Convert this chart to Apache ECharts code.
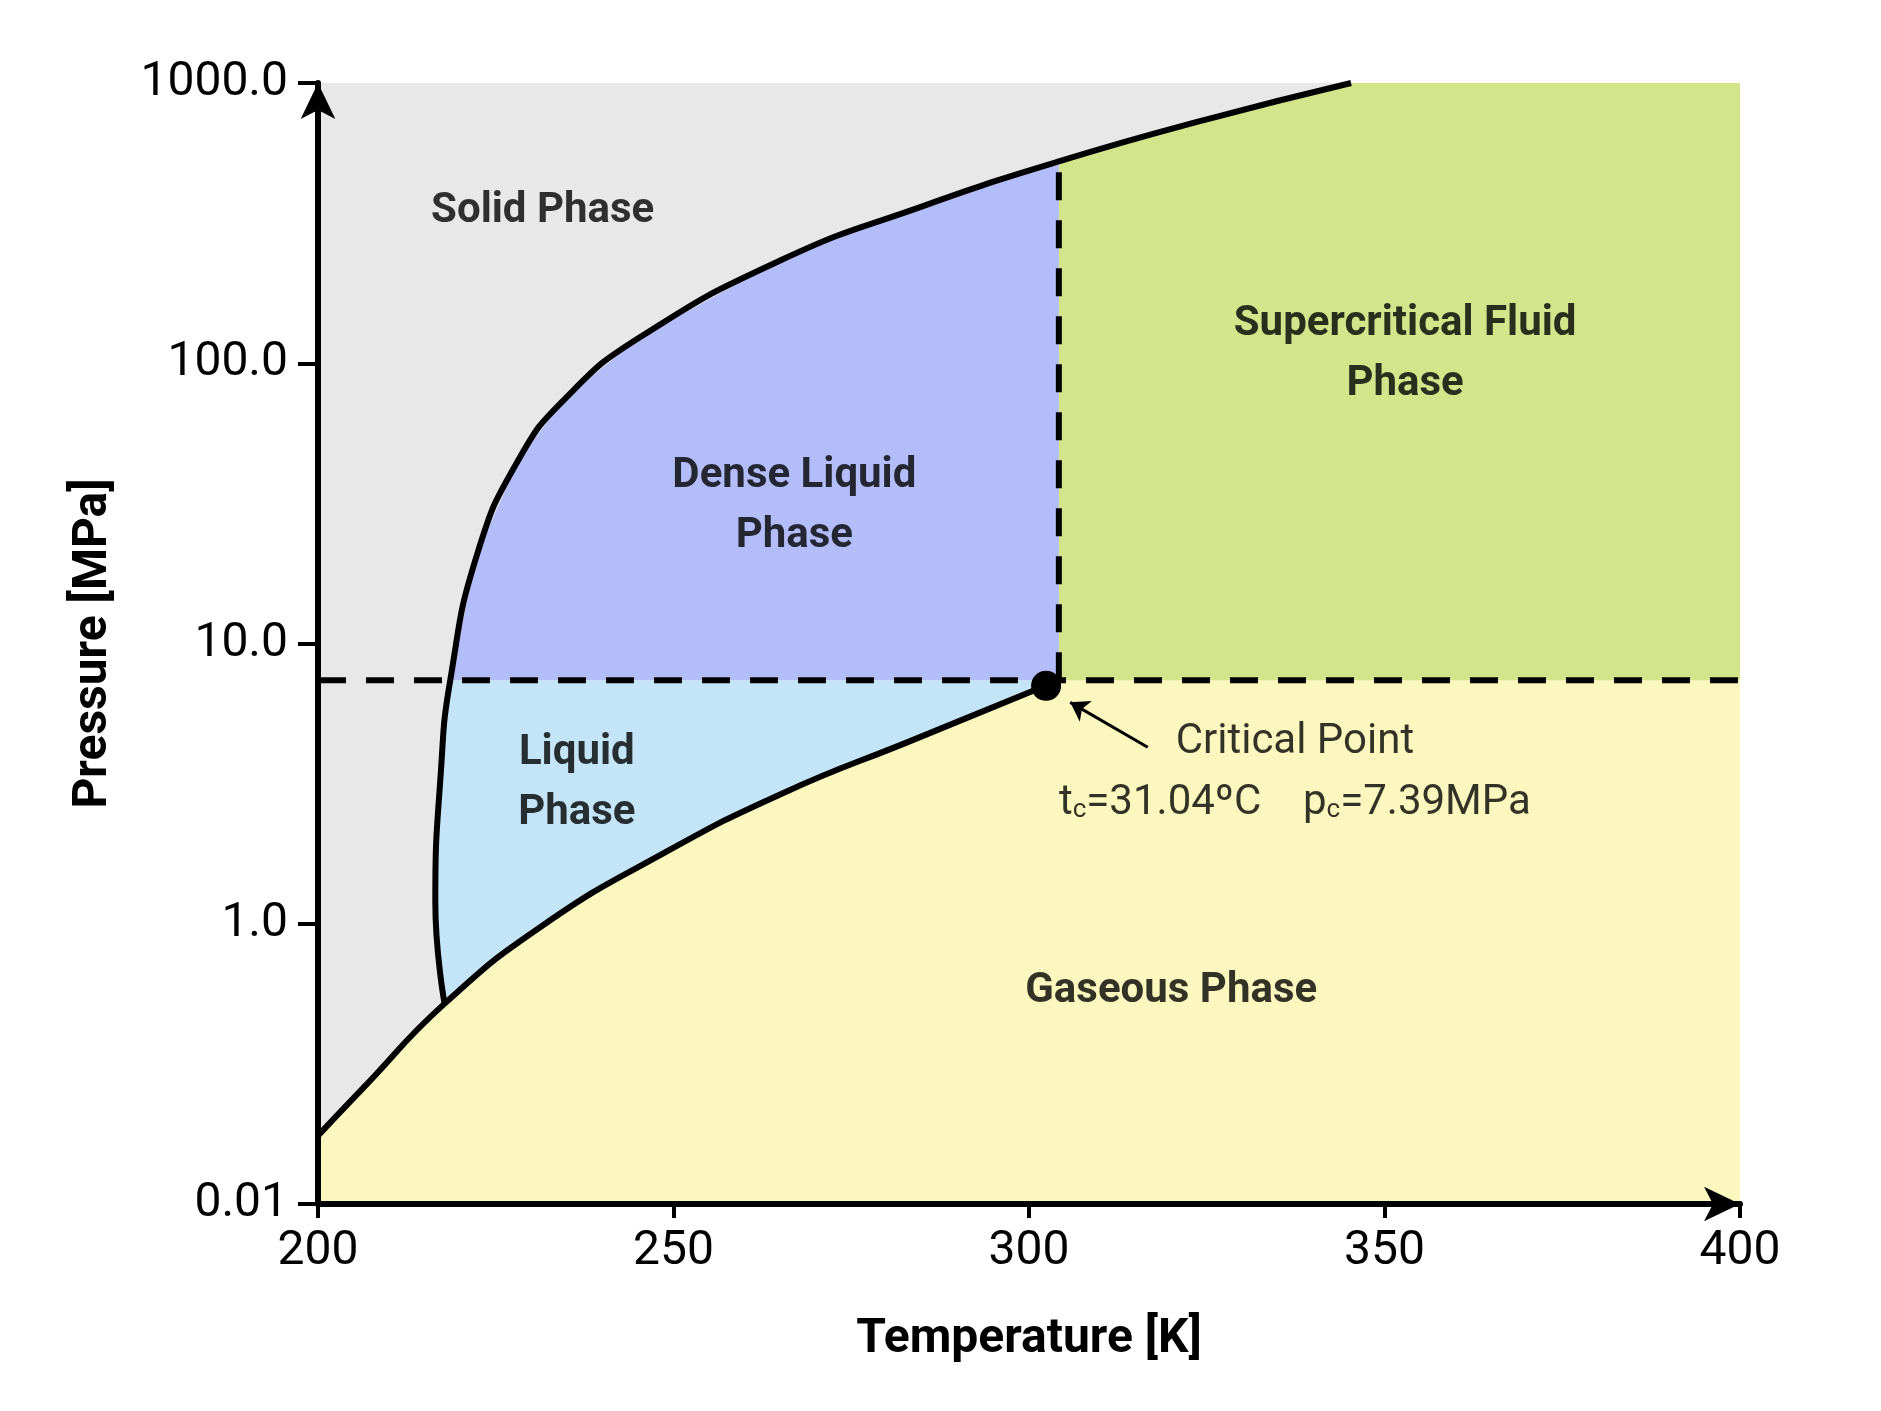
<!DOCTYPE html>
<html>
<head>
<meta charset="utf-8">
<script src="https://cdn.jsdelivr.net/npm/echarts@6/dist/echarts.min.js"></script>
<style>html,body{margin:0;padding:0;background:#fff}#main{width:1881px;height:1411px}</style>
</head>
<body>
<div id="main"></div>
<script>
// values are [T in K, log10(P in MPa)]
var Tc = 304.2, logPc = 0.869;
var meltCurve = [[217.8,-0.285],[216.5,0.08],[217.3,0.55],[218.6,0.869],[222.4,1.32],[228.3,1.66],[235,1.88],[245.1,2.09],[265.3,2.37],[285,2.56],[304.2,2.72],[325,2.87],[345.3,3.0]];
var vaporCurve = [[200,-0.756],[206.4,-0.585],[217.8,-0.285],[231.6,-0.006],[248.5,0.25],[265.3,0.465],[283.8,0.657],[304.2,0.869]];
var yTicks = {'-1':'0.01','0':'1.0','1':'10.0','2':'100.0','3':'1000.0'};
var phaseLabels = [
  [231.6,2.54,'Solid Phase'],
  [267,1.49,'Dense Liquid\nPhase'],
  [352.9,2.03,'Supercritical Fluid\nPhase'],
  [236.4,0.5,'Liquid\nPhase'],
  [320,-0.24,'Gaseous Phase']
];

var myChart = echarts.init(document.getElementById('main'));

var meltLow = meltCurve.slice(0, 4);           // below pc
var meltMid = meltCurve.slice(3, 11);          // pc .. Tc
var meltHigh = meltCurve.slice(10);            // Tc .. top

var polys = [
  {color:'#e8e8e8', pts:[[200,-1],[400,-1],[400,3],[200,3]]},
  {color:'#fbf7be', pts:[[200,-1]].concat(vaporCurve, [[400,logPc],[400,-1]])},
  {color:'#d3e58b', pts:[[Tc,logPc],[400,logPc],[400,3]].concat(meltHigh.slice().reverse())},
  {color:'#b3bdf9', pts:meltMid.concat([[Tc,logPc]])},
  {color:'#c3e5f7', pts:meltLow.concat([[Tc,logPc]], vaporCurve.slice(2).reverse())}
];

function polySeries(p) {
  return {
    type:'custom', silent:true, data:[0], z:1,
    renderItem:function (params, api) {
      return {type:'polygon', shape:{points:p.pts.map(function (q) { return api.coord(q); })},
        style:{fill:p.color}};
    }
  };
}

var series = polys.map(polySeries);
series.push(
  {type:'line', data:meltCurve, smooth:0.5, showSymbol:false, lineStyle:{color:'#000',width:6}, z:5},
  {type:'line', data:vaporCurve, smooth:0.5, showSymbol:false, lineStyle:{color:'#000',width:6}, z:5},
  {type:'line', data:[[200,logPc],[400,logPc]], showSymbol:false, lineStyle:{color:'#000',width:6,type:[28,20]}, z:5},
  {type:'line', data:[[Tc,logPc],[Tc,2.72]], showSymbol:false, lineStyle:{color:'#000',width:6,type:[28,20]}, z:5},
  {type:'scatter', data:[[Tc-1.8,logPc-0.02]], symbolSize:30, itemStyle:{color:'#000', opacity:1}, z:6},
  {type:'lines', coordinateSystem:'cartesian2d', polyline:false, z:6,
    data:[{coords:[[316.7,0.63],[305.8,0.79]]}], symbol:['none','arrow'], symbolSize:18,
    lineStyle:{color:'#000',width:3, opacity:1}},
  {type:'scatter', data:phaseLabels, symbolSize:0, z:7,
    label:{show:true, position:'inside', formatter:function (p) { return p.data[2]; },
      color:'#000', fontFamily:'Roboto', fontWeight:'bold', fontSize:42, lineHeight:60,
      align:'center'}},
  {type:'scatter', data:[[337.4,0.645],[337.4,0.43]], symbolSize:0, z:7,
    label:{show:true, position:'inside', color:'#000', fontFamily:'Roboto', fontSize:42,
      formatter:function (p) { return p.dataIndex == 0 ? 'Critical Point' : 't{s|c}=31.04ºC    p{s|c}=7.39MPa'; },
      rich:{s:{fontSize:26, fontFamily:'Roboto', color:'#000', padding:[14,0,0,0]}}}}
);

var option = {
  animation:false,
  grid:{left:318, right:141, top:83, bottom:207},
  xAxis:{type:'value', min:200, max:400, interval:50, z:10,
    name:'Temperature [K]', nameLocation:'middle', nameGap:112,
    nameTextStyle:{fontFamily:'Roboto', fontWeight:'bold', fontSize:48, color:'#000'},
    axisLine:{onZero:false, lineStyle:{color:'#000',width:6}, symbol:['none','arrow'], symbolSize:[26,36]},
    axisTick:{length:14, lineStyle:{color:'#000',width:4}},
    axisLabel:{fontFamily:'Roboto', fontSize:48, color:'#000', margin:24},
    splitLine:{show:false}},
  yAxis:{type:'value', min:-1, max:3, interval:1, z:10,
    name:'Pressure [MPa]', nameLocation:'middle', nameGap:200, nameRotate:90,
    nameTextStyle:{fontFamily:'Roboto', fontWeight:'bold', fontSize:48, color:'#000'},
    axisLine:{onZero:false, lineStyle:{color:'#000',width:6}, symbol:['none','arrow'], symbolSize:[26,36]},
    axisTick:{length:20, lineStyle:{color:'#000',width:4}},
    axisLabel:{fontFamily:'Roboto', fontSize:48, color:'#000', margin:30,
      formatter:function (v) { return yTicks[String(v)]; }},
    splitLine:{show:false}},
  series:series
};
myChart.setOption(option);
</script>
</body>
</html>
